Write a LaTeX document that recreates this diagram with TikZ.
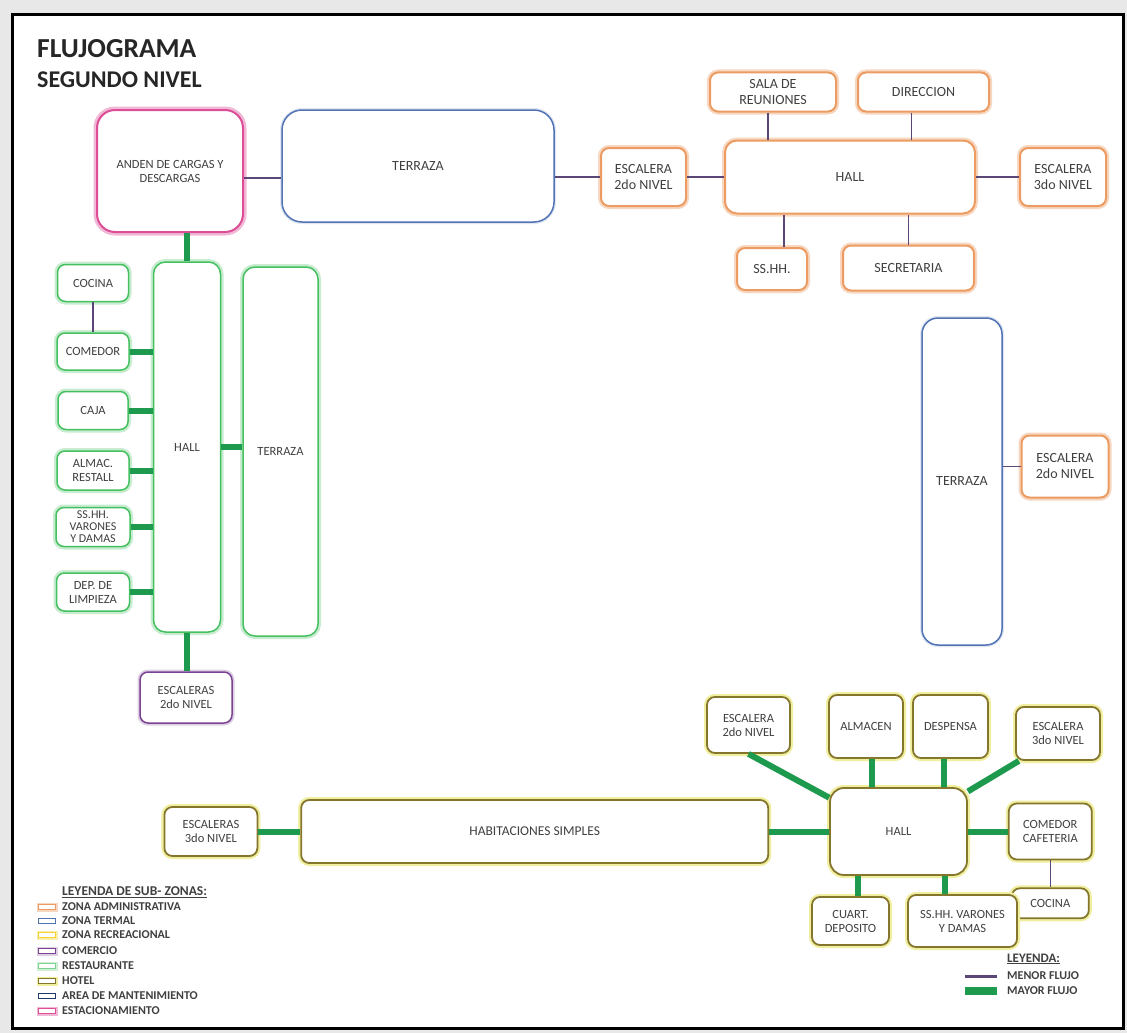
\documentclass[tikz,border=0pt]{standalone}
\usepackage{fontspec}
\setmainfont{Carlito}
\usepackage{xcolor}
\usepackage{tikz}
\usetikzlibrary{positioning}
\definecolor{adminc}{HTML}{EC9C62}
\definecolor{termalc}{HTML}{5273B4}
\definecolor{recreac}{HTML}{F5D230}
\definecolor{comercioc}{HTML}{7B4391}
\definecolor{restc}{HTML}{45C060}
\definecolor{hotelc}{HTML}{85762E}
\definecolor{mantc}{HTML}{1F3A6B}
\definecolor{parqueoc}{HTML}{DC4F97}
\definecolor{menorc}{HTML}{5A4778}
\definecolor{mayorc}{HTML}{1E9A4E}
\definecolor{txtc}{HTML}{404040}
\tikzset{
  zona/.style={draw, rounded corners=8pt, fill=white, align=center, inner sep=1pt, text=txtc, font=\fontsize{12.5}{14}\selectfont},
  admin/.style={zona, draw=adminc, line width=2pt, preaction={draw=adminc!40, line width=6pt}, font=\fontsize{14}{16}\selectfont},
  termal/.style={zona, draw=termalc, line width=1.5pt, preaction={draw=termalc!18, line width=4pt}, font=\fontsize{14}{16}\selectfont},
  rest/.style={zona, draw=restc, line width=1.5pt, preaction={draw=restc!30, line width=6pt}},
  comercio/.style={zona, draw=comercioc, line width=1.5pt, preaction={draw=comercioc!25, line width=5pt}},
  hotel/.style={zona, draw=hotelc, line width=1.8pt, preaction={draw=hotelc!30!yellow!40, line width=6pt}},
  parqueo/.style={zona, draw=parqueoc, line width=2pt, preaction={draw=parqueoc!40, line width=7pt}},
  menor/.style={draw=menorc, line width=1.5pt},
  mayor/.style={draw=mayorc, line width=6pt},
  muestra/.style={draw, fill=white, line width=1.5pt, minimum width=17pt, minimum height=5pt, inner sep=0pt},
  leyenda/.style={anchor=west, inner sep=0pt, text=txtc, font=\bfseries\fontsize{12}{13}\selectfont}
}

\begin{document}
\begin{tikzpicture}[x=1pt, y=-1pt]
  \useasboundingbox (0,0) rectangle (1127,1033);
  \fill[black!9] (0,0) rectangle (1127,1033);
  \draw[line width=3pt, fill=white] (12,15) rectangle (1123,1028);

  \node[anchor=base west, inner sep=0pt, font=\bfseries\fontsize{27.5}{30}\selectfont, text=black!85] (titulo) at (37,58) {FLUJOGRAMA};
  \node[anchor=base west, inner sep=0pt, font=\bfseries\fontsize{24}{26}\selectfont, text=black!85] (subtitulo) at (37,88) {SEGUNDO NIVEL};

  % estacionamiento y zona termal
  \node[parqueo, rounded corners=18pt, minimum width=146pt, minimum height=122pt] (anden) at (170,171) {ANDEN DE CARGAS Y\\DESCARGAS};
  \node[termal, rounded corners=20pt, minimum width=272pt, minimum height=112pt] (terraza) at (418,166) {TERRAZA};

  % zona administrativa
  \node[admin, rounded corners=12pt, minimum width=250pt, minimum height=73pt] (hall) at (850,177) {HALL};
  \node[admin, left=37pt of hall, minimum width=85pt, minimum height=58pt] (escdos) {ESCALERA\\2do NIVEL};
  \node[admin, right=43pt of hall, minimum width=86pt, minimum height=58pt] (esctres) {ESCALERA\\3do NIVEL};
  \node[admin, minimum width=126pt, minimum height=39pt] (sala) at (773,92) {SALA DE\\REUNIONES};
  \node[admin, minimum width=131pt, minimum height=39pt] (direccion) at (923.5,92) {DIRECCION};
  \node[admin, minimum width=70pt, minimum height=42pt] (sshh) at (772,269) {SS.HH.};
  \node[admin, minimum width=131pt, minimum height=45pt] (secretaria) at (908.5,268) {SECRETARIA};

  \draw[menor] ([yshift=-7pt]anden.east) -- ([yshift=-7pt]anden.east -| terraza.west);
  \draw[menor] (escdos.west -| terraza.east) -- (escdos.west);
  \draw[menor] (escdos.east) -- (escdos.east -| hall.west);
  \draw[menor] (hall.east) -- (hall.east -| esctres.west);
  \draw[menor] ([xshift=-5pt]sala.south) -- ([xshift=-5pt]sala.south |- hall.north);
  \draw[menor] ([xshift=-12pt]direccion.south) -- ([xshift=-12pt]direccion.south |- hall.north);
  \draw[menor] ([xshift=12pt]sshh.north) -- ([xshift=12pt]sshh.north |- hall.south);
  \draw[menor] (secretaria.north) -- (secretaria.north |- hall.south);

  % restaurante
  \node[rest, rounded corners=12pt, minimum width=67pt, minimum height=370pt] (rhall) at (187,447) {HALL};
  \node[rest, rounded corners=12pt, minimum width=75pt, minimum height=369pt] (rterraza) at (280.5,451.5) {TERRAZA};
  \node[rest, minimum width=72pt, minimum height=37pt] (rcomedor) at (93,351.5) {COMEDOR};
  \node[rest, above=30pt of rcomedor, minimum width=71pt, minimum height=37pt] (rcocina) {COCINA};
  \node[rest, below=20pt of rcomedor, minimum width=70pt, minimum height=38pt] (rcaja) {CAJA};
  \node[rest, below=20pt of rcaja, minimum width=72pt, minimum height=39pt] (ralmac) {ALMAC.\\RESTALL};
  \node[rest, below=16pt of ralmac, minimum width=74pt, minimum height=39pt, font=\fontsize{12}{12}\selectfont] (rsshh) {SS.HH.\\VARONES\\Y DAMAS};
  \node[rest, below=25pt of rsshh, minimum width=73pt, minimum height=38pt] (rlimpieza) {DEP. DE\\LIMPIEZA};
  \node[comercio, minimum width=92pt, minimum height=51pt] (rescaleras) at (186,697.5) {ESCALERAS\\2do NIVEL};

  \draw[mayor] (rhall.north |- anden.south) -- (rhall.north);
  \draw[menor] (rcocina.south) -- (rcomedor.north);
  \draw[mayor] (rcomedor.east) -- (rcomedor.east -| rhall.west);
  \draw[mayor] (rcaja.east) -- (rcaja.east -| rhall.west);
  \draw[mayor] (ralmac.east) -- (ralmac.east -| rhall.west);
  \draw[mayor] (rsshh.east) -- (rsshh.east -| rhall.west);
  \draw[mayor] (rlimpieza.east) -- (rlimpieza.east -| rhall.west);
  \draw[mayor] (rhall.east) -- (rhall.east -| rterraza.west);
  \draw[mayor] (rhall.south) -- (rhall.south |- rescaleras.north);

  % terraza derecha
  \node[termal, rounded corners=16pt, minimum width=80pt, minimum height=327pt] (tterraza) at (962,481.5) {TERRAZA};
  \node[admin, minimum width=87pt, minimum height=62pt] (tescalera) at (1065,466.5) {ESCALERA\\2do NIVEL};
  \draw[menor] (tescalera.west -| tterraza.east) -- (tescalera.west);

  % hotel
  \node[hotel, rounded corners=14pt, minimum width=137pt, minimum height=87pt] (hhall) at (898.5,831.5) {HALL};
  \node[hotel, left=60pt of hhall, minimum width=467pt, minimum height=63pt, font=\fontsize{13.5}{15}\selectfont] (habit) {HABITACIONES SIMPLES};
  \node[hotel, left=42pt of habit, minimum width=93pt, minimum height=49pt] (hesctres) {ESCALERAS\\3do NIVEL};
  \node[hotel, minimum width=83pt, minimum height=56pt] (hescdos) at (748.5,725) {ESCALERA\\2do NIVEL};
  \node[hotel, minimum width=74pt, minimum height=63pt] (halmacen) at (866,726.5) {ALMACEN};
  \node[hotel, minimum width=75pt, minimum height=63pt] (hdespensa) at (950.5,726.5) {DESPENSA};
  \node[hotel, minimum width=84pt, minimum height=53pt] (hescsup) at (1058,733.5) {ESCALERA\\3do NIVEL};
  \node[hotel, right=40pt of hhall, minimum width=83pt, minimum height=56pt] (hcomedor) {COMEDOR\\CAFETERIA};
  \node[hotel, below=27pt of hcomedor, minimum width=77pt, minimum height=30pt] (hcocina) {COCINA};
  \node[hotel, minimum width=77pt, minimum height=48pt] (hcuarto) at (850.5,921) {CUART.\\DEPOSITO};
  \node[hotel, minimum width=109pt, minimum height=52pt] (hsshh) at (962.5,921) {SS.HH. VARONES\\Y DAMAS};

  \draw[mayor] (hesctres.east) -- (hesctres.east -| habit.west);
  \draw[mayor] (habit.east) -- (habit.east -| hhall.west);
  \draw[mayor] (hescdos.south) -- (hhall.154);
  \draw[mayor] ([xshift=6pt]halmacen.south) -- ([xshift=6pt]halmacen.south |- hhall.north);
  \draw[mayor] ([xshift=-7pt]hdespensa.south) -- ([xshift=-7pt]hdespensa.south |- hhall.north);
  \draw[mayor] (hescsup.215) -- (hhall.30);
  \draw[mayor] (hhall.east) -- (hhall.east -| hcomedor.west);
  \draw[menor] (hcomedor.south) -- (hcomedor.south |- hcocina.north);
  \draw[mayor] ([xshift=7pt]hcuarto.north) -- ([xshift=7pt]hcuarto.north |- hhall.south);
  \draw[mayor] ([xshift=-18pt]hsshh.north) -- ([xshift=-18pt]hsshh.north |- hhall.south);

  % leyenda de sub-zonas
  \node[leyenda, font=\bfseries\fontsize{13.5}{14}\selectfont] (leyzonas) at (62,892) {\underline{LEYENDA DE SUB- ZONAS:}};
  \node[muestra, draw=adminc, preaction={draw=adminc!40, line width=4pt}] (madmin) at (47,907) {};
  \node[leyenda] (ladmin) at (62,907) {ZONA ADMINISTRATIVA};
  \node[muestra, draw=termalc] (mtermal) at (47,921) {};
  \node[leyenda] (ltermal) at (62,921) {ZONA TERMAL};
  \node[muestra, draw=recreac, preaction={draw=recreac!40, line width=4pt}] (mrecrea) at (47,935) {};
  \node[leyenda] (lrecrea) at (62,935) {ZONA RECREACIONAL};
  \node[muestra, draw=comercioc, preaction={draw=comercioc!25, line width=4pt}] (mcomercio) at (47,951) {};
  \node[leyenda] (lcomercio) at (62,951) {COMERCIO};
  \node[muestra, draw=restc!70, preaction={draw=restc!25, line width=4pt}] (mrest) at (47,966) {};
  \node[leyenda] (lrest) at (62,966) {RESTAURANTE};
  \node[muestra, draw=hotelc, preaction={draw=hotelc!30!yellow!40, line width=4pt}] (mhotel) at (47,981) {};
  \node[leyenda] (lhotel) at (62,981) {HOTEL};
  \node[muestra, draw=mantc] (mmant) at (47,996) {};
  \node[leyenda] (lmant) at (62,996) {AREA DE MANTENIMIENTO};
  \node[muestra, draw=parqueoc, preaction={draw=parqueoc!40, line width=4pt}] (mparqueo) at (47,1011) {};
  \node[leyenda] (lparqueo) at (62,1011) {ESTACIONAMIENTO};

  % leyenda de flujos
  \node[leyenda, font=\bfseries\fontsize{13}{14}\selectfont] (leyflujo) at (1007,959) {\underline{LEYENDA:}};
  \node[leyenda] (lmenor) at (1007,976) {MENOR FLUJO};
  \node[leyenda] (lmayor) at (1007,991) {MAYOR FLUJO};
  \draw[menor, line width=3pt] ([xshift=-10pt]lmenor.west) -- ++(-32pt,0);
  \draw[mayor, line width=8pt] ([xshift=-10pt]lmayor.west) -- ++(-32pt,0);
\end{tikzpicture}
\end{document}
